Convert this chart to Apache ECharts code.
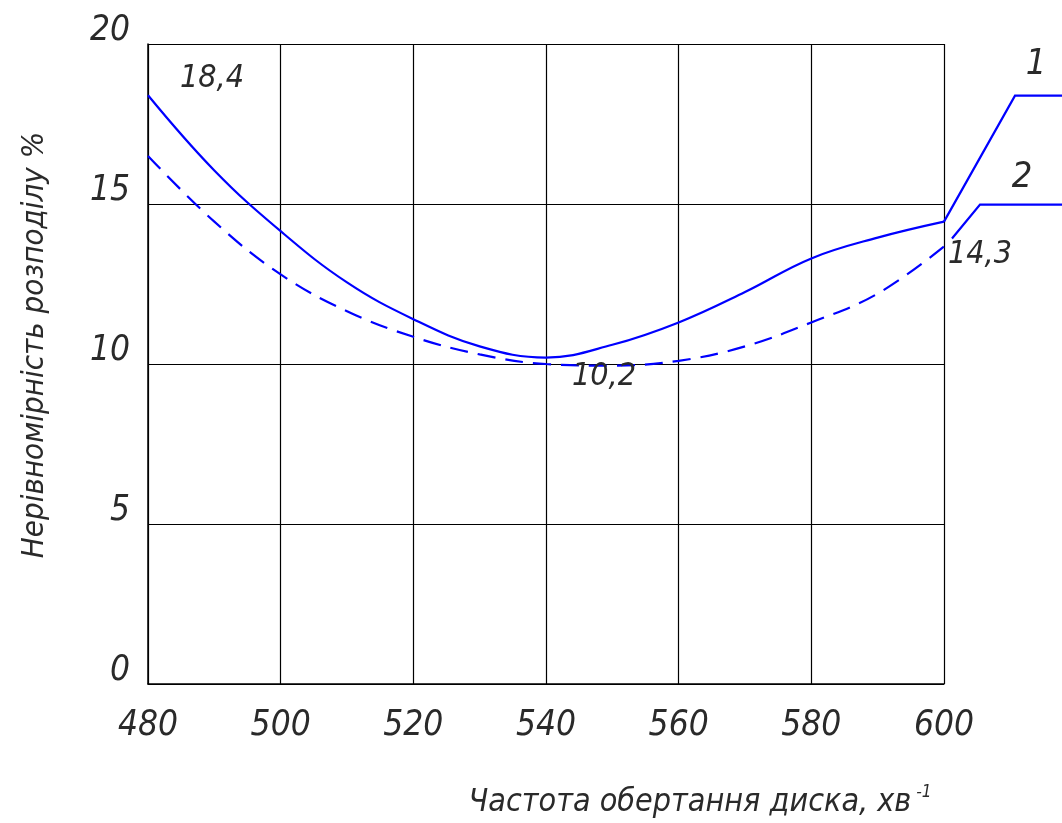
<!DOCTYPE html>
<html>
<head>
<meta charset="utf-8">
<script src="https://cdn.jsdelivr.net/npm/echarts@6/dist/echarts.min.js"></script>
<style>html,body{margin:0;padding:0;background:#fff}#c{width:1062px;height:823px}</style>
</head>
<body>
<div id="c"></div>
<script>
const freq = [480, 490, 500, 510, 520, 530, 540, 550, 560, 570, 580, 590, 600];
const series1 = [18.4, 16.05, 14.15, 12.55, 11.4, 10.55, 10.2, 10.6, 11.3, 12.25, 13.3, 13.95, 14.45];
const series2 = [16.5, 14.45, 12.8, 11.65, 10.85, 10.3, 10.0, 9.95, 10.1, 10.55, 11.3, 12.2, 13.67];
const yTicks = [0, 5, 10, 15, 20];
const xTicks = [480, 500, 520, 540, 560, 580, 600];
const seriesNames = ['1', '2'];
const notes = [
  {x: 480, y: 18.4, text: '18,4'},
  {x: 540, y: 10.2, text: '10,2'},
  {x: 600, y: 13.67, text: '14,3'}
];

const FONT = '"DejaVu Sans Condensed", "Liberation Sans Narrow", sans-serif';
const TXT = '#2a2a2a';
const BLUE = '#0000ff';

const chart = echarts.init(document.getElementById('c'));
const option = {
  animation: false,
  backgroundColor: '#fff',
  grid: {left: 148, right: 118, top: 44, bottom: 139, containLabel: false},
  xAxis: {
    type: 'value', min: 480, max: 600, interval: 20,
    axisLine: {show: true, lineStyle: {color: '#000', width: 1.5}},
    axisTick: {show: false},
    splitLine: {show: true, lineStyle: {color: '#000', width: 1.2}},
    axisLabel: {margin: 24, fontFamily: FONT, fontStyle: 'italic', fontSize: 35, color: TXT,
      formatter: v => xTicks.includes(v) ? String(v) : ''}
  },
  yAxis: {
    type: 'value', min: 0, max: 20, interval: 5,
    axisLine: {show: true, lineStyle: {color: '#000', width: 1.5}},
    axisTick: {show: false},
    splitLine: {show: true, lineStyle: {color: '#000', width: 1.2}},
    axisLabel: {margin: 18, fontFamily: FONT, fontStyle: 'italic', fontSize: 35, color: TXT,
      verticalAlign: 'bottom', lineHeight: 26,
      formatter: v => yTicks.includes(v) ? String(v) : ''}
  },
  series: [
    {
      name: seriesNames[0], type: 'line', smooth: 0.4, showSymbol: false,
      data: freq.map((x, i) => [x, series1[i]]),
      lineStyle: {color: BLUE, width: 2.2},
      markPoint: {
        symbol: 'circle', symbolSize: 0,
        label: {show: true, fontFamily: FONT, fontStyle: 'italic', fontSize: 32, color: TXT},
        data: [
          {coord: [notes[0].x, notes[0].y], value: notes[0].text, label: {formatter: notes[0].text, offset: [64, -17]}},
          {coord: [notes[1].x, notes[1].y], value: notes[1].text, label: {formatter: notes[1].text, offset: [58, 19]}}
        ]
      }
    },
    {
      name: seriesNames[1], type: 'line', smooth: 0.4, showSymbol: false,
      data: freq.map((x, i) => [x, series2[i]]),
      lineStyle: {color: BLUE, width: 2.2, type: [18, 10]},
      markPoint: {
        symbol: 'circle', symbolSize: 0,
        label: {show: true, fontFamily: FONT, fontStyle: 'italic', fontSize: 32, color: TXT},
        data: [
          {coord: [notes[2].x, notes[2].y], value: notes[2].text, label: {formatter: notes[2].text, offset: [36, 8]}}
        ]
      }
    }
  ]
};
chart.setOption(option);

// leader lines to curve labels, starting from the curve ends
const p1 = chart.convertToPixel({gridIndex: 0}, [freq[freq.length - 1], series1[series1.length - 1]]);
const p2 = chart.convertToPixel({gridIndex: 0}, [freq[freq.length - 1], series2[series2.length - 1]]);
chart.setOption({
  graphic: [
    {type: 'polyline', shape: {points: [[p1[0], p1[1]], [p1[0] + 71, p1[1] - 126], [1062, p1[1] - 126]]},
      style: {stroke: BLUE, lineWidth: 2.2, fill: null}},
    {type: 'polyline', shape: {points: [[p2[0] + 8, p2[1] - 8], [p2[0] + 36, p2[1] - 42], [1062, p2[1] - 42]]},
      style: {stroke: BLUE, lineWidth: 2.2, fill: null}},
    {type: 'text', x: p1[0] + 92, y: p1[1] - 157, style: {text: seriesNames[0], font: 'italic 36px ' + FONT, fill: TXT, textAlign: 'center', textVerticalAlign: 'middle'}},
    {type: 'text', x: p2[0] + 78, y: p2[1] - 69, style: {text: seriesNames[1], font: 'italic 36px ' + FONT, fill: TXT, textAlign: 'center', textVerticalAlign: 'middle'}},
    {type: 'text', x: 35, y: 345, rotation: Math.PI / 2,
      style: {text: 'Нерівномірність розподілу %', font: 'italic 31px ' + FONT, fill: TXT, textAlign: 'center', textVerticalAlign: 'middle'}},
    {type: 'text', x: 700, y: 803,
      style: {text: '{a|Частота обертання диска, хв}{s| -1}', font: 'italic 32px ' + FONT, fill: TXT, textAlign: 'center', textVerticalAlign: 'middle',
        rich: {a: {fontFamily: FONT, fontStyle: 'italic', fontSize: 32, color: TXT},
               s: {fontFamily: FONT, fontStyle: 'italic', fontSize: 17, color: TXT, padding: [0, 0, 20, 0]}}}}
  ]
});
</script>
</body>
</html>
